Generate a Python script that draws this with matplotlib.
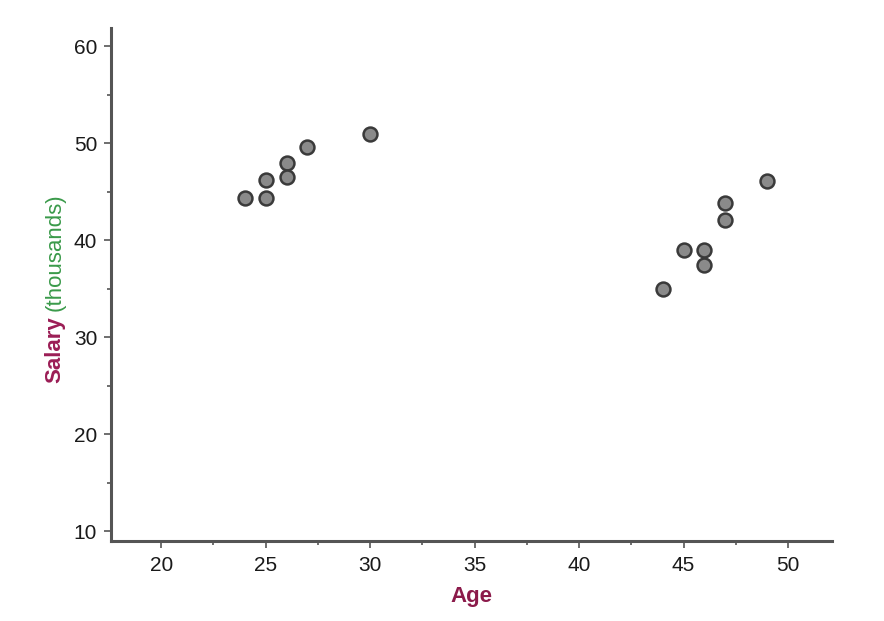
import matplotlib
matplotlib.use("Agg")
import matplotlib.pyplot as plt
from matplotlib.ticker import MultipleLocator

plt.rcParams['font.family'] = ['Liberation Sans', 'DejaVu Sans']

age = [24, 25, 25, 26, 26, 27, 30, 44, 45, 46, 46, 47, 47, 49]
salary = [44.4, 46.2, 44.4, 48.0, 46.5, 49.6, 51.0, 35.0, 39.0, 39.0, 37.5, 43.9, 42.1, 46.1]

fig = plt.figure(figsize=(8.84, 6.21), dpi=100)
ax = fig.add_axes([0.1256, 0.1288, 0.8155, 0.8262])

ax.scatter(age, salary, s=100, facecolor='#8a8a8a', edgecolor='#3a3a3a', linewidths=1.8, zorder=3)

ax.set_xlim(17.6, 52.1)
ax.set_ylim(9.0, 61.9)
ax.xaxis.set_major_locator(MultipleLocator(5))
ax.xaxis.set_minor_locator(MultipleLocator(2.5))
ax.yaxis.set_major_locator(MultipleLocator(10))
ax.yaxis.set_minor_locator(MultipleLocator(5))

for s in ['top', 'right']:
    ax.spines[s].set_visible(False)
for s in ['left', 'bottom']:
    ax.spines[s].set_color('#555555')
    ax.spines[s].set_linewidth(2.2)

ax.tick_params(which='both', direction='out', color='#555555', width=1.2, labelcolor='#1a1a1a', labelsize=15)
ax.tick_params(which='major', length=5)
ax.tick_params(which='minor', length=3)
ax.tick_params(axis='x', pad=6)
ax.tick_params(axis='y', pad=5)

ax.set_xlabel('Age', color='#8b1a4a', fontsize=16, fontweight='bold', labelpad=8)

# two-colour y label
t1 = fig.text(55 / 884, 1 - 383 / 621, 'Salary', rotation=90, color='#9b1d55', fontsize=16,
              fontweight='bold', ha='center', va='bottom')
fig.canvas.draw()
ext = t1.get_window_extent()
fig.text(55 / 884, (ext.y1 + 5) / fig.bbox.height, '(thousands)', rotation=90, color='#3a9a4a',
         fontsize=16, ha='center', va='bottom')

fig.savefig('out.png', dpi=100, facecolor='white')
